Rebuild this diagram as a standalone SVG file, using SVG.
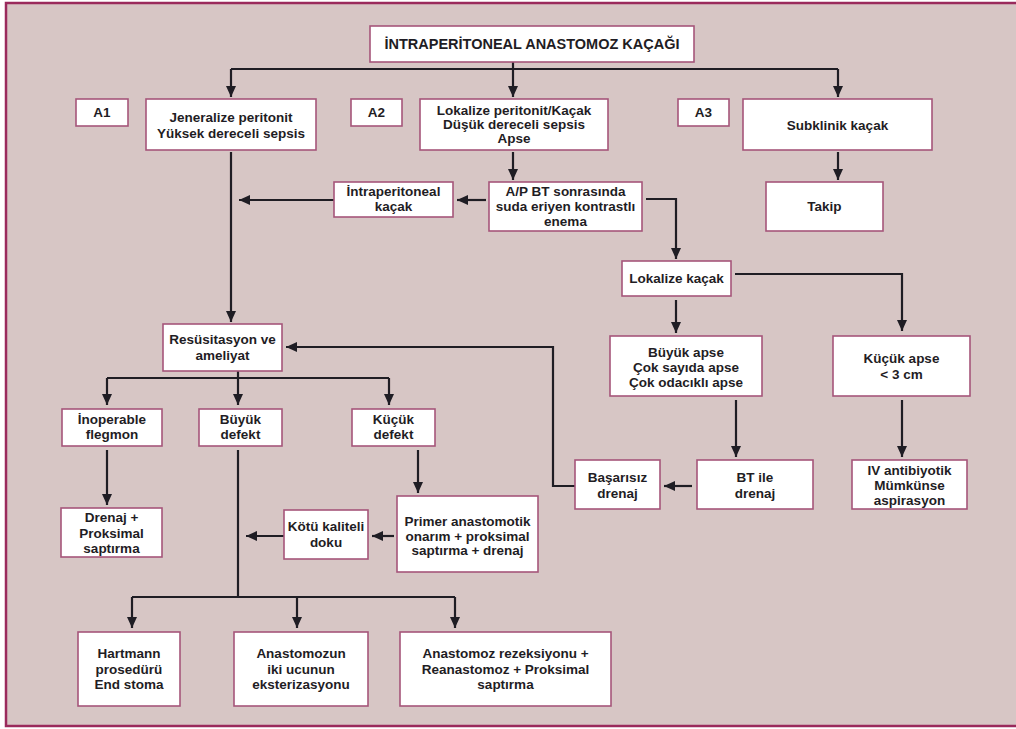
<svg xmlns="http://www.w3.org/2000/svg" width="1016" height="729" viewBox="0 0 1016 729">
<style>
.bg{fill:#d7c6c5;stroke:#9a2a5c;stroke-width:2.5}
.box{fill:#ffffff;stroke:#a6557a;stroke-width:1.6}
text{font-family:"Liberation Sans",Arial,sans-serif;font-size:13.5px;font-weight:bold;fill:#1f1d24;text-anchor:middle}
.tt{font-size:14.5px}
.ln{fill:none;stroke:#1f1d24;stroke-width:2.2;stroke-linejoin:miter}
.ar{marker-end:url(#ah)}
</style>
<defs>
<marker id="ah" markerUnits="userSpaceOnUse" markerWidth="11" markerHeight="10" refX="11" refY="5" orient="auto">
<path d="M0,0 L11,5 L0,10 z" fill="#1f1d24"/>
</marker>
</defs>
<rect x="0" y="0" width="1016" height="729" fill="#ffffff"/>
<rect class="bg" x="6" y="3" width="1020" height="723"/>

<g id="connectors">
<path class="ln" d="M231,69 L838,69"/>
<path class="ln ar" d="M513,62 L513,97"/>
<path class="ln ar" d="M231,69 L231,97"/>
<path class="ln ar" d="M838,69 L838,97"/>
<path class="ln ar" d="M231,152 L231,322"/>
<path class="ln ar" d="M334,200 L239,200"/>
<path class="ln ar" d="M486,200 L457,200"/>
<path class="ln ar" d="M513,152 L513,180"/>
<path class="ln ar" d="M646,199 L676,199 L676,259"/>
<path class="ln ar" d="M838,152 L838,180"/>
<path class="ln ar" d="M735,274 L902,274 L902,331"/>
<path class="ln ar" d="M676,300 L676,333"/>
<path class="ln ar" d="M736,400 L736,457"/>
<path class="ln ar" d="M902,400 L902,457"/>
<path class="ln ar" d="M692,486 L664,486"/>
<path class="ln ar" d="M575,486 L553,486 L553,347 L286,347"/>
<path class="ln" d="M107,378 L389,378"/>
<path class="ln ar" d="M238,371 L238,405"/>
<path class="ln ar" d="M107,378 L107,405"/>
<path class="ln ar" d="M389,378 L389,405"/>
<path class="ln ar" d="M107,450 L107,505"/>
<path class="ln" d="M238,450 L238,597"/>
<path class="ln ar" d="M418,450 L418,493"/>
<path class="ln ar" d="M394,536 L372,536"/>
<path class="ln ar" d="M284,536 L246,536"/>
<path class="ln" d="M132,597 L455,597"/>
<path class="ln ar" d="M132,597 L132,628"/>
<path class="ln ar" d="M297,597 L297,628"/>
<path class="ln ar" d="M455,597 L455,628"/>
</g>

<g id="title"><rect class="box" x="370" y="26" width="324" height="36"/><text class="tt" x="532" y="49">İNTRAPERİTONEAL ANASTOMOZ KAÇAĞI</text></g>
<g id="a1"><rect class="box" x="76" y="99" width="52" height="27"/><text x="102" y="117">A1</text></g>
<g id="jeneralize"><rect class="box" x="146" y="99" width="170" height="51"/><text x="231" y="122">Jeneralize peritonit</text><text x="231" y="137.5">Yüksek dereceli sepsis</text></g>
<g id="a2"><rect class="box" x="351" y="99" width="51" height="27"/><text x="376.5" y="117">A2</text></g>
<g id="lokalize"><rect class="box" x="420" y="99" width="188" height="51"/><text x="514" y="115">Lokalize peritonit/Kaçak</text><text x="514" y="129">Düşük dereceli sepsis</text><text x="514" y="143">Apse</text></g>
<g id="a3"><rect class="box" x="678" y="99" width="51" height="27"/><text x="703.5" y="117">A3</text></g>
<g id="subklinik"><rect class="box" x="743" y="99" width="189" height="51"/><text x="837.5" y="129.5">Subklinik kaçak</text></g>
<g id="intraperitoneal"><rect class="box" x="334" y="182" width="119" height="35"/><text x="393.5" y="196">İntraperitoneal</text><text x="393.5" y="211">kaçak</text></g>
<g id="apbt"><rect class="box" x="489" y="182" width="153" height="49"/><text x="565.5" y="196">A/P BT sonrasında</text><text x="565.5" y="211">suda eriyen kontrastlı</text><text x="565.5" y="226">enema</text></g>
<g id="takip"><rect class="box" x="766" y="182" width="117" height="49"/><text x="824.5" y="211">Takip</text></g>
<g id="lokalizekacak"><rect class="box" x="622" y="261" width="109" height="35"/><text x="676.5" y="283">Lokalize kaçak</text></g>
<g id="resusitasyon"><rect class="box" x="163" y="324" width="119" height="47"/><text x="222.5" y="344">Resüsitasyon ve</text><text x="222.5" y="359.5">ameliyat</text></g>
<g id="buyukapse"><rect class="box" x="610" y="336" width="152" height="60"/><text x="686" y="356.5">Büyük apse</text><text x="686" y="372">Çok sayıda apse</text><text x="686" y="387">Çok odacıklı apse</text></g>
<g id="kucukapse"><rect class="box" x="833" y="336" width="137" height="60"/><text x="901.5" y="363">Küçük apse</text><text x="901.5" y="379">&lt; 3 cm</text></g>
<g id="inoperable"><rect class="box" x="62" y="409" width="100" height="37"/><text x="112" y="424">İnoperable</text><text x="112" y="439">flegmon</text></g>
<g id="buyukdefekt"><rect class="box" x="199" y="409" width="83" height="37"/><text x="240.5" y="424">Büyük</text><text x="240.5" y="439">defekt</text></g>
<g id="kucukdefekt"><rect class="box" x="352" y="409" width="83" height="37"/><text x="393.5" y="424">Küçük</text><text x="393.5" y="439">defekt</text></g>
<g id="basarisiz"><rect class="box" x="575" y="460" width="85" height="49"/><text x="617.5" y="482">Başarısız</text><text x="617.5" y="498">drenaj</text></g>
<g id="btile"><rect class="box" x="697" y="460" width="116" height="49"/><text x="755" y="482">BT ile</text><text x="755" y="498">drenaj</text></g>
<g id="ivantibiyotik"><rect class="box" x="852" y="460" width="115" height="49"/><text x="909.5" y="474.5">IV antibiyotik</text><text x="909.5" y="489.5">Mümkünse</text><text x="909.5" y="505">aspirasyon</text></g>
<g id="drenaj"><rect class="box" x="61" y="508" width="101" height="49"/><text x="111.5" y="522">Drenaj +</text><text x="111.5" y="537.5">Proksimal</text><text x="111.5" y="553">saptırma</text></g>
<g id="kotukaliteli"><rect class="box" x="284" y="510" width="84" height="49"/><text x="326" y="531">Kötü kaliteli</text><text x="326" y="546.5">doku</text></g>
<g id="primer"><rect class="box" x="397" y="496" width="141" height="76"/><text x="467.5" y="526">Primer anastomotik</text><text x="467.5" y="540.5">onarım + proksimal</text><text x="467.5" y="555">saptırma + drenaj</text></g>
<g id="hartmann"><rect class="box" x="78" y="632" width="102" height="74"/><text x="129" y="658">Hartmann</text><text x="129" y="673.5">prosedürü</text><text x="129" y="689">End stoma</text></g>
<g id="anastomozun"><rect class="box" x="234" y="632" width="134" height="74"/><text x="301" y="658">Anastomozun</text><text x="301" y="673.5">iki ucunun</text><text x="301" y="689">eksterizasyonu</text></g>
<g id="anastomozrez"><rect class="box" x="400" y="632" width="211" height="74"/><text x="505.5" y="658">Anastomoz rezeksiyonu +</text><text x="505.5" y="673.5">Reanastomoz + Proksimal</text><text x="505.5" y="689">saptırma</text></g>
</svg>
